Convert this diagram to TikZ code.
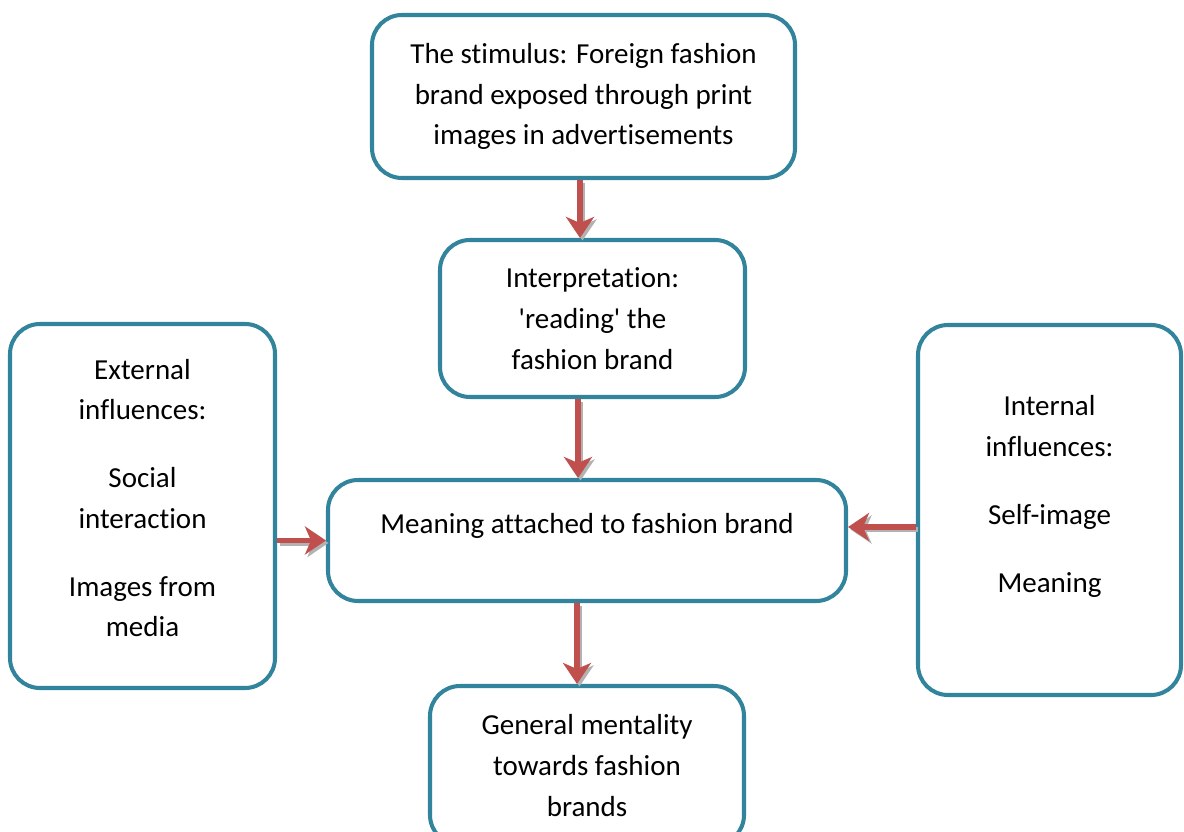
\documentclass[tikz,border=0pt]{standalone}
\usepackage{fontspec}
\setmainfont{Carlito}[Ligatures={TeX,NoCommon}]
\usetikzlibrary{arrows.meta}
\definecolor{boxteal}{RGB}{49,132,155}
\definecolor{arrred}{RGB}{192,80,77}
\tikzset{
  stage/.style={draw=boxteal, line width=2.3pt, rounded corners=0.6cm, fill=white,
    align=center, inner sep=0pt, font=\fontsize{16.5}{23.2}\selectfont},
  flow/.style={draw=arrred, line width=3.2pt,
    -{Stealth[length=0.42cm,width=0.56cm,inset=0.12cm]},
    preaction={draw=black!30, line width=3.2pt,
      -{Stealth[length=0.42cm,width=0.56cm,inset=0.12cm]},
      transform canvas={shift={(0.05cm,-0.05cm)}}}}
}
\begin{document}
\begin{tikzpicture}
  \useasboundingbox (0,0) rectangle (23.68,-16.64);
  % the boxes
  \node[stage, minimum width=8.46cm, minimum height=3.26cm] (stim) at (11.67,-1.93)
    {The stimulus: Foreign fashion\\brand exposed through print\\images in advertisements};
  \node[stage, minimum width=6.10cm, minimum height=3.14cm] (interp) at (11.85,-6.37)
    {Interpretation:\\\textquotesingle reading\textquotesingle{} the\\fashion brand};
  \node[stage, minimum width=5.30cm, minimum height=7.28cm, text depth=0.32cm] (ext) at (2.85,-10.12)
    {External\\influences:\\[0.54cm]Social\\interaction\\[0.54cm]Images from\\media};
  \node[stage, minimum width=10.36cm, minimum height=2.42cm, text depth=0.68cm] (mean) at (11.74,-10.81)
    {Meaning attached to fashion brand};
  \node[stage, minimum width=5.26cm, minimum height=7.40cm, text depth=0.64cm] (int) at (20.99,-10.20)
    {Internal\\influences:\\[0.54cm]Self-image\\[0.54cm]Meaning};
  \node[stage, minimum width=6.28cm, minimum height=3.18cm] (gen) at (11.74,-15.31)
    {General mentality\\towards fashion\\brands};
  % the arrows
  \draw[flow] ([xshift=-0.07cm]stim.south) -- ([xshift=-0.07cm]stim.south |- interp.north);
  \draw[flow] ([xshift=-0.29cm]interp.south) -- ([xshift=-0.29cm]interp.south |- mean.north);
  \draw[flow] (ext.east |- mean.west) -- (mean.west);
  \draw[flow] ([yshift=-0.34cm]int.west) -- ([yshift=-0.34cm]int.west -| mean.east);
  \draw[flow] ([xshift=-0.2cm]mean.south) -- ([xshift=-0.2cm]mean.south |- gen.north);
\end{tikzpicture}
\end{document}
